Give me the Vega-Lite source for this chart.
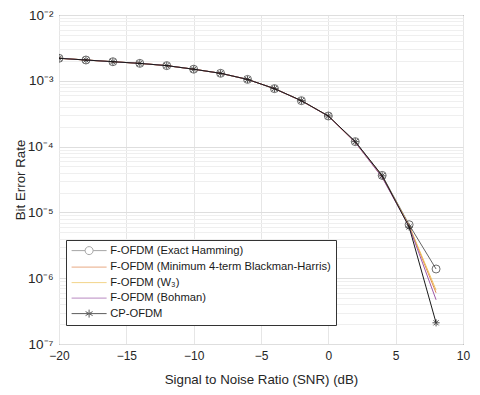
{
  "$schema": "https://vega.github.io/schema/vega-lite/v6.json",
  "width": 404,
  "height": 329,
  "autosize": {"type": "none"},
  "padding": {"left": 59, "top": 15, "right": 17, "bottom": 51},
  "background": "white",
  "config": {
    "font": "Liberation Sans",
    "view": {"stroke": "#333333", "strokeWidth": 1},
    "axis": {"labelFont": "Liberation Sans", "titleFont": "Liberation Sans", "labelColor": "#262626", "titleColor": "#262626", "labelFontSize": 12, "titleFontSize": 13.3, "titleFontWeight": "normal", "domain": false}
  },
  "data": {"values": [
    {"series": "F-OFDM (Exact Hamming)", "snr": -20, "ber": 0.00220},
    {"series": "F-OFDM (Exact Hamming)", "snr": -18, "ber": 0.00207},
    {"series": "F-OFDM (Exact Hamming)", "snr": -16, "ber": 0.00195},
    {"series": "F-OFDM (Exact Hamming)", "snr": -14, "ber": 0.00184},
    {"series": "F-OFDM (Exact Hamming)", "snr": -12, "ber": 0.00170},
    {"series": "F-OFDM (Exact Hamming)", "snr": -10, "ber": 0.00150},
    {"series": "F-OFDM (Exact Hamming)", "snr": -8, "ber": 0.00130},
    {"series": "F-OFDM (Exact Hamming)", "snr": -6, "ber": 0.00105},
    {"series": "F-OFDM (Exact Hamming)", "snr": -4, "ber": 0.00076},
    {"series": "F-OFDM (Exact Hamming)", "snr": -2, "ber": 0.000499},
    {"series": "F-OFDM (Exact Hamming)", "snr": 0, "ber": 0.000292},
    {"series": "F-OFDM (Exact Hamming)", "snr": 2, "ber": 0.000119},
    {"series": "F-OFDM (Exact Hamming)", "snr": 4, "ber": 0.0000365},
    {"series": "F-OFDM (Exact Hamming)", "snr": 6, "ber": 0.0000065},
    {"series": "F-OFDM (Exact Hamming)", "snr": 8, "ber": 0.00000138},
    {"series": "F-OFDM (Minimum 4-term Blackman-Harris)", "snr": -20, "ber": 0.00220},
    {"series": "F-OFDM (Minimum 4-term Blackman-Harris)", "snr": -18, "ber": 0.00207},
    {"series": "F-OFDM (Minimum 4-term Blackman-Harris)", "snr": -16, "ber": 0.00195},
    {"series": "F-OFDM (Minimum 4-term Blackman-Harris)", "snr": -14, "ber": 0.00184},
    {"series": "F-OFDM (Minimum 4-term Blackman-Harris)", "snr": -12, "ber": 0.00170},
    {"series": "F-OFDM (Minimum 4-term Blackman-Harris)", "snr": -10, "ber": 0.00150},
    {"series": "F-OFDM (Minimum 4-term Blackman-Harris)", "snr": -8, "ber": 0.00130},
    {"series": "F-OFDM (Minimum 4-term Blackman-Harris)", "snr": -6, "ber": 0.00105},
    {"series": "F-OFDM (Minimum 4-term Blackman-Harris)", "snr": -4, "ber": 0.00076},
    {"series": "F-OFDM (Minimum 4-term Blackman-Harris)", "snr": -2, "ber": 0.000497},
    {"series": "F-OFDM (Minimum 4-term Blackman-Harris)", "snr": 0, "ber": 0.000290},
    {"series": "F-OFDM (Minimum 4-term Blackman-Harris)", "snr": 2, "ber": 0.000116},
    {"series": "F-OFDM (Minimum 4-term Blackman-Harris)", "snr": 4, "ber": 0.0000345},
    {"series": "F-OFDM (Minimum 4-term Blackman-Harris)", "snr": 6, "ber": 0.0000062},
    {"series": "F-OFDM (Minimum 4-term Blackman-Harris)", "snr": 8, "ber": 0.00000060},
    {"series": "F-OFDM (W₃)", "snr": -20, "ber": 0.00220},
    {"series": "F-OFDM (W₃)", "snr": -18, "ber": 0.00207},
    {"series": "F-OFDM (W₃)", "snr": -16, "ber": 0.00195},
    {"series": "F-OFDM (W₃)", "snr": -14, "ber": 0.00184},
    {"series": "F-OFDM (W₃)", "snr": -12, "ber": 0.00170},
    {"series": "F-OFDM (W₃)", "snr": -10, "ber": 0.00150},
    {"series": "F-OFDM (W₃)", "snr": -8, "ber": 0.00130},
    {"series": "F-OFDM (W₃)", "snr": -6, "ber": 0.00105},
    {"series": "F-OFDM (W₃)", "snr": -4, "ber": 0.00076},
    {"series": "F-OFDM (W₃)", "snr": -2, "ber": 0.000498},
    {"series": "F-OFDM (W₃)", "snr": 0, "ber": 0.000291},
    {"series": "F-OFDM (W₃)", "snr": 2, "ber": 0.000117},
    {"series": "F-OFDM (W₃)", "snr": 4, "ber": 0.0000350},
    {"series": "F-OFDM (W₃)", "snr": 6, "ber": 0.0000063},
    {"series": "F-OFDM (W₃)", "snr": 8, "ber": 0.00000066},
    {"series": "F-OFDM (Bohman)", "snr": -20, "ber": 0.00220},
    {"series": "F-OFDM (Bohman)", "snr": -18, "ber": 0.00207},
    {"series": "F-OFDM (Bohman)", "snr": -16, "ber": 0.00195},
    {"series": "F-OFDM (Bohman)", "snr": -14, "ber": 0.00184},
    {"series": "F-OFDM (Bohman)", "snr": -12, "ber": 0.00170},
    {"series": "F-OFDM (Bohman)", "snr": -10, "ber": 0.00150},
    {"series": "F-OFDM (Bohman)", "snr": -8, "ber": 0.00130},
    {"series": "F-OFDM (Bohman)", "snr": -6, "ber": 0.00105},
    {"series": "F-OFDM (Bohman)", "snr": -4, "ber": 0.00076},
    {"series": "F-OFDM (Bohman)", "snr": -2, "ber": 0.000497},
    {"series": "F-OFDM (Bohman)", "snr": 0, "ber": 0.000290},
    {"series": "F-OFDM (Bohman)", "snr": 2, "ber": 0.000116},
    {"series": "F-OFDM (Bohman)", "snr": 4, "ber": 0.0000340},
    {"series": "F-OFDM (Bohman)", "snr": 6, "ber": 0.0000061},
    {"series": "F-OFDM (Bohman)", "snr": 8, "ber": 0.00000047},
    {"series": "CP-OFDM", "snr": -20, "ber": 0.00220},
    {"series": "CP-OFDM", "snr": -18, "ber": 0.00207},
    {"series": "CP-OFDM", "snr": -16, "ber": 0.00195},
    {"series": "CP-OFDM", "snr": -14, "ber": 0.00184},
    {"series": "CP-OFDM", "snr": -12, "ber": 0.00170},
    {"series": "CP-OFDM", "snr": -10, "ber": 0.00150},
    {"series": "CP-OFDM", "snr": -8, "ber": 0.00130},
    {"series": "CP-OFDM", "snr": -6, "ber": 0.00105},
    {"series": "CP-OFDM", "snr": -4, "ber": 0.00076},
    {"series": "CP-OFDM", "snr": -2, "ber": 0.000499},
    {"series": "CP-OFDM", "snr": 0, "ber": 0.000292},
    {"series": "CP-OFDM", "snr": 2, "ber": 0.000119},
    {"series": "CP-OFDM", "snr": 4, "ber": 0.0000360},
    {"series": "CP-OFDM", "snr": 6, "ber": 0.0000060},
    {"series": "CP-OFDM", "snr": 8, "ber": 0.00000021}
  ]},
  "resolve": {"scale": {"color": "independent", "shape": "independent"}},
  "layer": [
    {
      "mark": {"type": "line", "strokeWidth": 1, "clip": true},
      "encoding": {
        "x": {"field": "snr", "type": "quantitative",
          "scale": {"domain": [-20, 10], "nice": false, "zero": false},
          "axis": {"values": [-20, -15, -10, -5, 0, 5, 10], "title": "Signal to Noise Ratio (SNR) (dB)",
            "grid": true, "gridColor": "#e6e6e6", "ticks": false, "labelPadding": 6, "labelFlush": false,
            "titleY": 35, "titleBaseline": "middle"}},
        "y": {"field": "ber", "type": "quantitative",
          "scale": {"type": "log", "domain": [1e-7, 1e-2], "nice": false},
          "axis": {
            "values": [1e-7,2e-7,3e-7,4e-7,5e-7,6e-7,7e-7,8e-7,9e-7,1e-6,2e-6,3e-6,4e-6,5e-6,6e-6,7e-6,8e-6,9e-6,1e-5,2e-5,3e-5,4e-5,5e-5,6e-5,7e-5,8e-5,9e-5,1e-4,2e-4,3e-4,4e-4,5e-4,6e-4,7e-4,8e-4,9e-4,1e-3,2e-3,3e-3,4e-3,5e-3,6e-3,7e-3,8e-3,9e-3,1e-2],
            "title": "Bit Error Rate", "grid": true, "ticks": false, "labelPadding": 6,
            "gridColor": {"condition": {"test": "abs(log(datum.value)/LN10 - round(log(datum.value)/LN10)) < 0.001", "value": "#dedede"}, "value": "#efefef"},
            "labelExpr": "abs(log(datum.value)/LN10 - round(log(datum.value)/LN10)) < 0.001 ? '10⁻' + ['⁰','¹','²','³','⁴','⁵','⁶','⁷','⁸','⁹'][-round(log(datum.value)/LN10)] : ''",
            "labelFontSize": 13.5,
            "titleX": -39, "titleY": 164.5, "titleAngle": -90, "titleBaseline": "middle", "titleAlign": "center"}},
        "color": {"field": "series", "type": "nominal", "legend": null,
          "scale": {"domain": ["F-OFDM (Exact Hamming)", "F-OFDM (Minimum 4-term Blackman-Harris)", "F-OFDM (W₃)", "F-OFDM (Bohman)", "CP-OFDM"],
            "range": ["#666666", "#e0864f", "#eec35a", "#9c5aa8", "#1a1a1a"]}},
        "order": {"field": "series"}
      }
    },
    {
      "transform": [{"filter": "datum.series == 'F-OFDM (Exact Hamming)' || datum.series == 'CP-OFDM'"}],
      "mark": {"type": "point", "filled": false, "strokeWidth": 1, "size": 64, "clip": true},
      "encoding": {
        "x": {"field": "snr", "type": "quantitative"},
        "y": {"field": "ber", "type": "quantitative"},
        "shape": {"field": "series", "type": "nominal", "legend": null,
          "scale": {"domain": ["F-OFDM (Exact Hamming)", "CP-OFDM"],
            "range": ["circle", "M-0.9,0H0.9M0,-0.9V0.9M-0.65,-0.65L0.65,0.65M-0.65,0.65L0.65,-0.65"]}},
        "color": {"field": "series", "type": "nominal", "legend": null,
          "scale": {"domain": ["F-OFDM (Exact Hamming)", "CP-OFDM"], "range": ["#333333", "#111111"]}}
      }
    },
    {
      "transform": [{"filter": "false"}],
      "mark": {"type": "point", "filled": false, "strokeWidth": 1},
      "encoding": {
        "shape": {"field": "series", "type": "nominal",
          "scale": {"domain": ["F-OFDM (Exact Hamming)", "F-OFDM (Minimum 4-term Blackman-Harris)", "F-OFDM (W₃)", "F-OFDM (Bohman)", "CP-OFDM"],
            "range": ["M-1,0H1.7M3.3,0H6M1.7,0A0.8,0.8 0 1,0 3.3,0A0.8,0.8 0 1,0 1.7,0", "M-1,0H6", "M-1,0H6", "M-1,0H6", "M-1,0H6M2.5,-0.8V0.8M1.8,-0.4L3.2,0.4M1.8,0.4L3.2,-0.4"]},
          "legend": {"title": null, "orient": "none", "legendX": 7, "legendY": 225, "symbolSize": 100, "symbolStrokeWidth": 1,
            "labelFont": "Liberation Sans", "labelFontSize": 11.2, "labelColor": "#1a1a1a", "rowPadding": 3.5,
            "strokeColor": "#333333", "fillColor": "white", "padding": 5, "labelOffset": 28, "labelLimit": 400}},
        "color": {"field": "series", "type": "nominal",
          "scale": {"domain": ["F-OFDM (Exact Hamming)", "F-OFDM (Minimum 4-term Blackman-Harris)", "F-OFDM (W₃)", "F-OFDM (Bohman)", "CP-OFDM"],
            "range": ["#808080", "#e0864f", "#eec35a", "#9c5aa8", "#1a1a1a"]}}
      }
    }
  ]
}
